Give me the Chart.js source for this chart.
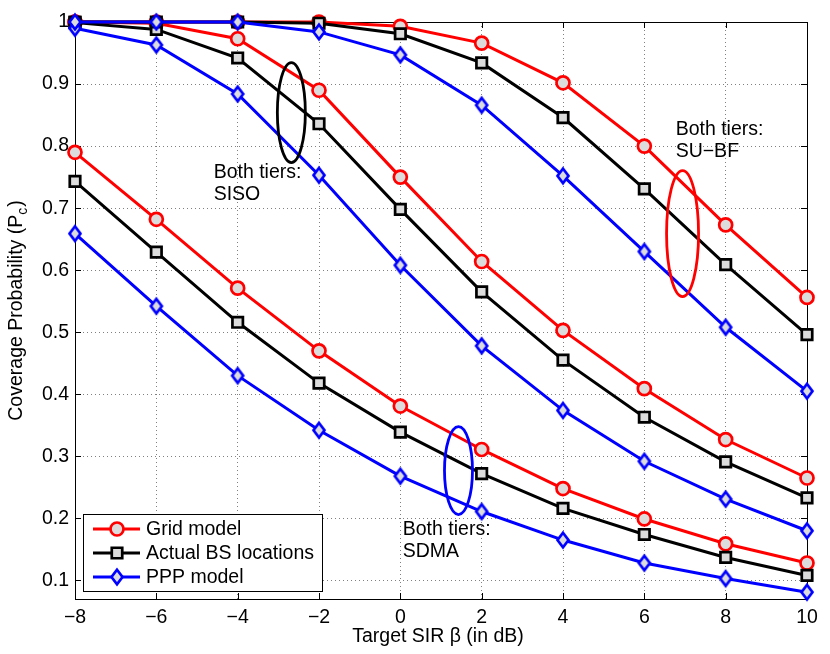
<!DOCTYPE html>
<html>
<head>
<meta charset="utf-8">
<script src="https://cdn.jsdelivr.net/npm/chart.js@4.4.1/dist/chart.umd.min.js"></script>
<style>
  html, body { margin: 0; padding: 0; background: #fff; }
</style>
</head>
<body>
<canvas id="chart" width="830" height="654"></canvas>
<script>
// target SIR in dB
const sirDb = [-8, -6, -4, -2, 0, 2, 4, 6, 8, 10];
const xTicks = [-8, -6, -4, -2, 0, 2, 4, 6, 8, 10];
const yTicks = [0.1, 0.2, 0.3, 0.4, 0.5, 0.6, 0.7, 0.8, 0.9, 1.0];
const yTickLabels = ['0.1', '0.2', '0.3', '0.4', '0.5', '0.6', '0.7', '0.8', '0.9', '1'];
const seriesNames = ['Grid model', 'Actual BS locations', 'PPP model'];

// Both tiers: SU-BF
const suGrid   = [1.0, 1.0, 1.0, 1.0, 0.993, 0.966, 0.902, 0.800, 0.673, 0.556];
const suActual = [1.0, 1.0, 1.0, 0.998, 0.981, 0.934, 0.846, 0.731, 0.609, 0.496];
const suPPP    = [1.0, 1.0, 1.0, 0.984, 0.947, 0.866, 0.752, 0.630, 0.508, 0.405];

// Both tiers: SISO
const sisoGrid   = [1.0, 0.998, 0.973, 0.890, 0.750, 0.614, 0.503, 0.409, 0.327, 0.265];
const sisoActual = [0.999, 0.988, 0.942, 0.836, 0.698, 0.565, 0.455, 0.363, 0.291, 0.233];
const sisoPPP    = [0.990, 0.963, 0.884, 0.753, 0.608, 0.478, 0.374, 0.292, 0.231, 0.180];

// Both tiers: SDMA
const sdmaGrid   = [0.790, 0.682, 0.571, 0.470, 0.381, 0.311, 0.248, 0.199, 0.159, 0.128];
const sdmaActual = [0.743, 0.629, 0.516, 0.418, 0.339, 0.272, 0.216, 0.174, 0.137, 0.108];
const sdmaPPP    = [0.659, 0.542, 0.430, 0.342, 0.268, 0.211, 0.165, 0.128, 0.103, 0.081];

const groups = [
  [suGrid, suActual, suPPP],
  [sisoGrid, sisoActual, sisoPPP],
  [sdmaGrid, sdmaActual, sdmaPPP]
];

const markerFill = '#dcdcdc';
const FONT = '"Liberation Sans", Arial, Helvetica, sans-serif';

// diamond marker, a bit taller than wide like matlab's
function makeDiamond(color) {
  const c = document.createElement('canvas');
  c.width = 18; c.height = 22;
  const g = c.getContext('2d');
  g.beginPath();
  g.moveTo(9, 3.7); g.lineTo(14.5, 11); g.lineTo(9, 18.3); g.lineTo(3.5, 11);
  g.closePath();
  g.fillStyle = markerFill;
  g.fill();
  g.lineWidth = 2.7;
  g.lineJoin = 'miter';
  g.strokeStyle = color;
  g.stroke();
  return c;
}

const styles = [
  { color: '#ff0000', point: 'circle', radius: 6.5 },
  { color: '#000000', point: 'rect', radius: 7.4 },
  { color: '#0000ff', point: makeDiamond('#0000ff'), radius: 9 }
];

const datasets = [];
groups.forEach(group => {
  group.forEach((vals, m) => {
    const st = styles[m];
    datasets.push({
      label: seriesNames[m],
      data: sirDb.map((x, i) => ({ x: x, y: vals[i] })),
      borderColor: st.color,
      backgroundColor: markerFill,
      borderWidth: 3,
      pointStyle: st.point,
      pointRadius: st.radius,
      pointBorderWidth: 2.7,
      pointBorderColor: st.color,
      pointBackgroundColor: markerFill,
      tension: 0,
      clip: false,
      order: 2 - m
    });
  });
});

// ellipses + labels pointing at each group
const notes = [
  { x: -2.68, y: 0.854, rx: 14, ry: 50, color: '#000000', tx: -4.59, ty: 0.757, lines: ['Both tiers:', 'SISO'] },
  { x: 6.94, y: 0.659, rx: 16, ry: 63, color: '#ff0000', tx: 6.77, ty: 0.826, lines: ['Both tiers:', 'SU\u2212BF'] },
  { x: 1.43, y: 0.277, rx: 14, ry: 44, color: '#0000ff', tx: 0.06, ty: 0.182, lines: ['Both tiers:', 'SDMA'] }
];

function drawMarker(ctx, m, cx, cy) {
  const st = styles[m];
  ctx.save();
  ctx.fillStyle = markerFill;
  ctx.strokeStyle = st.color;
  ctx.lineWidth = 2.7;
  if (m === 0) {
    ctx.beginPath();
    ctx.arc(cx, cy, st.radius, 0, Math.PI * 2);
    ctx.fill(); ctx.stroke();
  } else if (m === 1) {
    const s = Math.SQRT1_2 * st.radius;
    ctx.beginPath();
    ctx.rect(cx - s, cy - s, 2 * s, 2 * s);
    ctx.fill(); ctx.stroke();
  } else {
    ctx.drawImage(st.point, cx - 9, cy - 11);
  }
  ctx.restore();
}

const decor = {
  id: 'decor',
  beforeDraw(chart) {
    const ctx = chart.ctx;
    ctx.save();
    ctx.fillStyle = '#fff';
    ctx.fillRect(0, 0, chart.width, chart.height);
    ctx.restore();
  },
  beforeDatasetsDraw(chart) {
    const { ctx, chartArea: a, scales: { x, y } } = chart;
    ctx.save();
    ctx.strokeStyle = '#000';
    ctx.lineWidth = 1;
    ctx.strokeRect(a.left + 0.5, a.top + 0.5, a.right - a.left, a.bottom - a.top);
    // matlab style inward ticks
    ctx.beginPath();
    xTicks.forEach(v => {
      const px = Math.round(x.getPixelForValue(v)) + 0.5;
      ctx.moveTo(px, a.bottom); ctx.lineTo(px, a.bottom - 6);
      ctx.moveTo(px, a.top); ctx.lineTo(px, a.top + 6);
    });
    yTicks.forEach(v => {
      const py = Math.round(y.getPixelForValue(v)) + 0.5;
      ctx.moveTo(a.left, py); ctx.lineTo(a.left + 6, py);
      ctx.moveTo(a.right, py); ctx.lineTo(a.right - 6, py);
    });
    ctx.stroke();
    ctx.restore();
  },
  afterDatasetsDraw(chart) {
    const { ctx, chartArea: a, scales: { x, y } } = chart;
    ctx.save();
    ctx.font = '19.5px ' + FONT;
    ctx.textBaseline = 'middle';
    ctx.textAlign = 'left';

    notes.forEach(n => {
      ctx.beginPath();
      ctx.ellipse(x.getPixelForValue(n.x), y.getPixelForValue(n.y), n.rx, n.ry, 0, 0, Math.PI * 2);
      ctx.strokeStyle = n.color;
      ctx.lineWidth = 2.8;
      ctx.stroke();
      ctx.fillStyle = '#000';
      n.lines.forEach((t, i) => {
        ctx.fillText(t, x.getPixelForValue(n.tx), y.getPixelForValue(n.ty) + i * 22);
      });
    });

    // legend box in lower left
    const lx = a.left + 8, ly = a.bottom - 85, lw = 239, lh = 77;
    ctx.fillStyle = '#fff';
    ctx.fillRect(lx, ly, lw, lh);
    ctx.strokeStyle = '#000';
    ctx.lineWidth = 1;
    ctx.strokeRect(lx + 0.5, ly + 0.5, lw, lh);
    seriesNames.forEach((name, m) => {
      const cy = ly + 15 + m * 24;
      ctx.beginPath();
      ctx.moveTo(lx + 10, cy); ctx.lineTo(lx + 57, cy);
      ctx.strokeStyle = styles[m].color;
      ctx.lineWidth = 3;
      ctx.stroke();
      drawMarker(ctx, m, lx + 34, cy);
      ctx.fillStyle = '#000';
      ctx.fillText(name, lx + 63, cy + 1);
    });

    // axis titles
    ctx.textAlign = 'center';
    ctx.fillText('Target SIR \u03b2 (in dB)', 438, 637);

    ctx.save();
    ctx.translate(17, 311);
    ctx.rotate(-Math.PI / 2);
    const main = 'Coverage Probability (P';
    ctx.font = '19.5px ' + FONT;
    const w1 = ctx.measureText(main).width;
    ctx.font = '14px ' + FONT;
    const w2 = ctx.measureText('c').width;
    ctx.font = '19.5px ' + FONT;
    const w3 = ctx.measureText(')').width;
    let sx = -(w1 + w2 + w3) / 2;
    ctx.textAlign = 'left';
    ctx.fillText(main, sx, 0);
    ctx.font = '14px ' + FONT;
    ctx.fillText('c', sx + w1, 6);
    ctx.font = '19.5px ' + FONT;
    ctx.fillText(')', sx + w1 + w2 + 1, 0);
    ctx.restore();

    ctx.restore();
  }
};

Chart.defaults.font.family = FONT;
Chart.defaults.font.size = 19.5;
Chart.defaults.color = '#000';

new Chart(document.getElementById('chart'), {
  type: 'line',
  data: { datasets: datasets },
  options: {
    responsive: false,
    animation: false,
    layout: { padding: { top: 22, right: 23, left: 0, bottom: 0 } },
    plugins: {
      legend: { display: false },
      tooltip: { enabled: false }
    },
    scales: {
      x: {
        type: 'linear',
        min: -8,
        max: 10,
        afterBuildTicks: s => { s.ticks = xTicks.map(v => ({ value: v })); },
        afterFit: s => { s.height = 55; },
        ticks: {
          padding: 7,
          maxRotation: 0,
          callback: v => (v < 0 ? '\u2212' + Math.abs(v) : String(v))
        },
        grid: { color: '#808080', lineWidth: 1, drawTicks: false },
        border: { display: false, dash: [1, 3] }
      },
      y: {
        type: 'linear',
        min: 0.07,
        max: 1.0,
        afterBuildTicks: s => { s.ticks = yTicks.map(v => ({ value: v })); },
        afterFit: s => { s.width = 75; },
        ticks: {
          padding: 6,
          callback: (v, i) => yTickLabels[i]
        },
        grid: { color: '#808080', lineWidth: 1, drawTicks: false },
        border: { display: false, dash: [1, 3] }
      }
    }
  },
  plugins: [decor]
});
</script>
</body>
</html>
